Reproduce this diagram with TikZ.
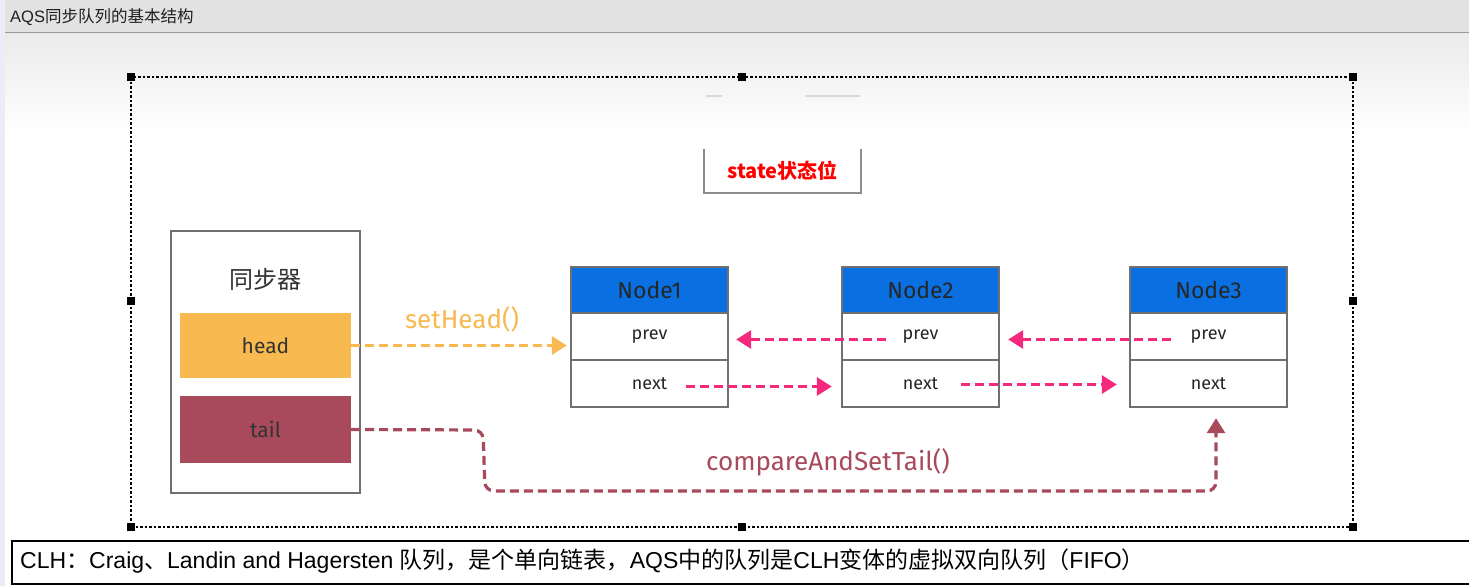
\documentclass[tikz,border=0pt]{standalone}
\usepackage{fontspec}
\setmainfont{Liberation Sans}
\newfontfamily\cjk{Noto Sans CJK SC}
\newfontfamily\hand{Fira Sans}
\usetikzlibrary{arrows.meta,calc}
\newcommand{\zh}[1]{{\cjk #1}}
\definecolor{nodeblue}{RGB}{10,112,226}
\definecolor{headorange}{RGB}{247,185,80}
\definecolor{tailred}{RGB}{168,74,91}
\definecolor{linkpink}{RGB}{244,40,124}
\definecolor{sketchgray}{RGB}{112,112,112}
\definecolor{titlebg}{RGB}{226,226,226}
\tikzset{
  sketch/.style={draw=sketchgray, line width=2.4pt},
  hdr/.style={sketch, fill=nodeblue, minimum width=157pt, minimum height=46pt, inner sep=0pt,
    font=\hand\fontsize{23}{25}\selectfont, text=black!85},
  rowbox/.style={sketch, fill=white, minimum width=157pt, minimum height=47pt, inner sep=0pt,
    font=\hand\fontsize{18}{20}\selectfont, text=black!85},
  field/.style={minimum width=171pt, inner sep=0pt, font=\hand\fontsize{21}{23}\selectfont, text=black!80},
  link/.style={line width=3.2pt, dash pattern=on 9pt off 5pt, -{Triangle[length=15pt,width=18pt]}},
  handle/.style={fill=black, minimum size=8pt, inner sep=0pt},
  lbl/.style={font=\hand\fontsize{26}{28}\selectfont, inner sep=0pt}
}
\begin{document}
\begin{tikzpicture}[x=1pt,y=-1pt]
\useasboundingbox (0,0) rectangle (1469,586);
% window background
\fill[white] (0,0) rectangle (1469,586);
\shade[top color=titlebg!90!black!40!white, bottom color=white] (5,33) rectangle (1469,135);
\fill[titlebg] (0,0) rectangle (1469,32);
\draw[black!40, line width=1.2pt] (5,32.5) -- (1469,32.5);
\fill[black!22!blue!8!white] (0,0) rectangle (5,586);
\node[anchor=west, inner sep=0pt, text=black!88, font=\fontsize{16.5}{18}\selectfont] (title) at (10,17)
  {AQS\zh{同步队列的基本结构}};

% selection frame
\draw[black, line width=1.1pt, dash pattern=on 2.5pt off 2pt] (131,77) rectangle (1353,527);
\foreach \x/\y [count=\i] in {131/77,742/77,1353/77,131/301,1353/301,131/527,742/527,1353/527}
  \node[handle] (h\i) at (\x,\y) {};

% faint leftover strokes
\draw[black!15, line width=1.5pt] (706,96) -- (722,96) (805,96) -- (860,96);

% state box
\node[minimum width=157pt, minimum height=43pt, inner sep=0pt, text=red,
  font=\cjk\bfseries\fontsize{20}{22}\selectfont] (state) at (782.5,171) {state状态位};
\draw[sketchgray!80, line width=2pt] (state.north west) -- (state.south west) -- (state.south east) -- (state.north east);

% synchronizer
\node[sketch, minimum width=189pt, minimum height=262pt, fill=white] (sync) at (265.5,362) {};
\node[font=\cjk\fontsize{24}{26}\selectfont, text=black!80] (synclbl) at (265,279) {同步器};
\node[field, fill=headorange, minimum height=65pt] (head) at (265.5,345.5) {head};
\node[field, fill=tailred, minimum height=67pt] (tail) at (265.5,429.5) {tail};

% queue nodes
\node[hdr] (n1) at (649.5,290) {Node1};
\node[rowbox] (n1p) at (649.5,336.5) {prev};
\node[rowbox] (n1n) at (649.5,383.5) {next};
\node[hdr] (n2) at (920.5,290) {Node2};
\node[rowbox] (n2p) at (920.5,336.5) {prev};
\node[rowbox] (n2n) at (920.5,383.5) {next};
\node[hdr] (n3) at (1208.5,290) {Node3};
\node[rowbox] (n3p) at (1208.5,336.5) {prev};
\node[rowbox] (n3n) at (1208.5,383.5) {next};

% setHead
\draw[link, headorange] (head.east) -- ([xshift=-3pt]n1p.west |- head.east);
\node[lbl, text=headorange] (sethead) at (462,319) {setHead()};

% prev / next links
\draw[link, linkpink] ([xshift=-35pt,yshift=-3pt]n2p.center) -- ([xshift=7pt,yshift=-3pt]n1p.east);
\draw[link, linkpink] ([xshift=-38pt,yshift=-3pt]n3p.center) -- ([xshift=8pt,yshift=-3pt]n2p.east);
\draw[link, linkpink] ([xshift=36pt,yshift=-3pt]n1n.center) -- ([xshift=-9pt,yshift=-3pt]n2n.west);
\draw[link, linkpink] ([xshift=40pt,yshift=-1pt]n2n.center) -- ([xshift=-12pt,yshift=-1pt]n3n.west);

% compareAndSetTail
\coordinate (t1) at (483,430);
\coordinate (t2) at (485,491);
\coordinate (t3) at (1216,491);
\draw[link, tailred, rounded corners=9pt] (tail.east) -- (t1) -- (t2) -- (t3) -- ([xshift=7.5pt,yshift=-10pt]n3n.south);
\node[lbl, text=tailred] (cas) at (828,462) {compareAndSetTail()};

% caption
\draw[black, line width=1.3pt] (1469,541) -- (12,541) -- (12,584) -- (1469,584);
\node[anchor=west, inner sep=0pt, text=black, font=\fontsize{23}{25}\selectfont] (caption) at (20,561)
  {CLH\zh{：}Craig\zh{、}Landin and Hagersten \zh{队列，是个单向链表，}AQS\zh{中的队列是}CLH\zh{变体的虚拟双向队列（}FIFO\zh{）}};
\end{tikzpicture}
\end{document}
